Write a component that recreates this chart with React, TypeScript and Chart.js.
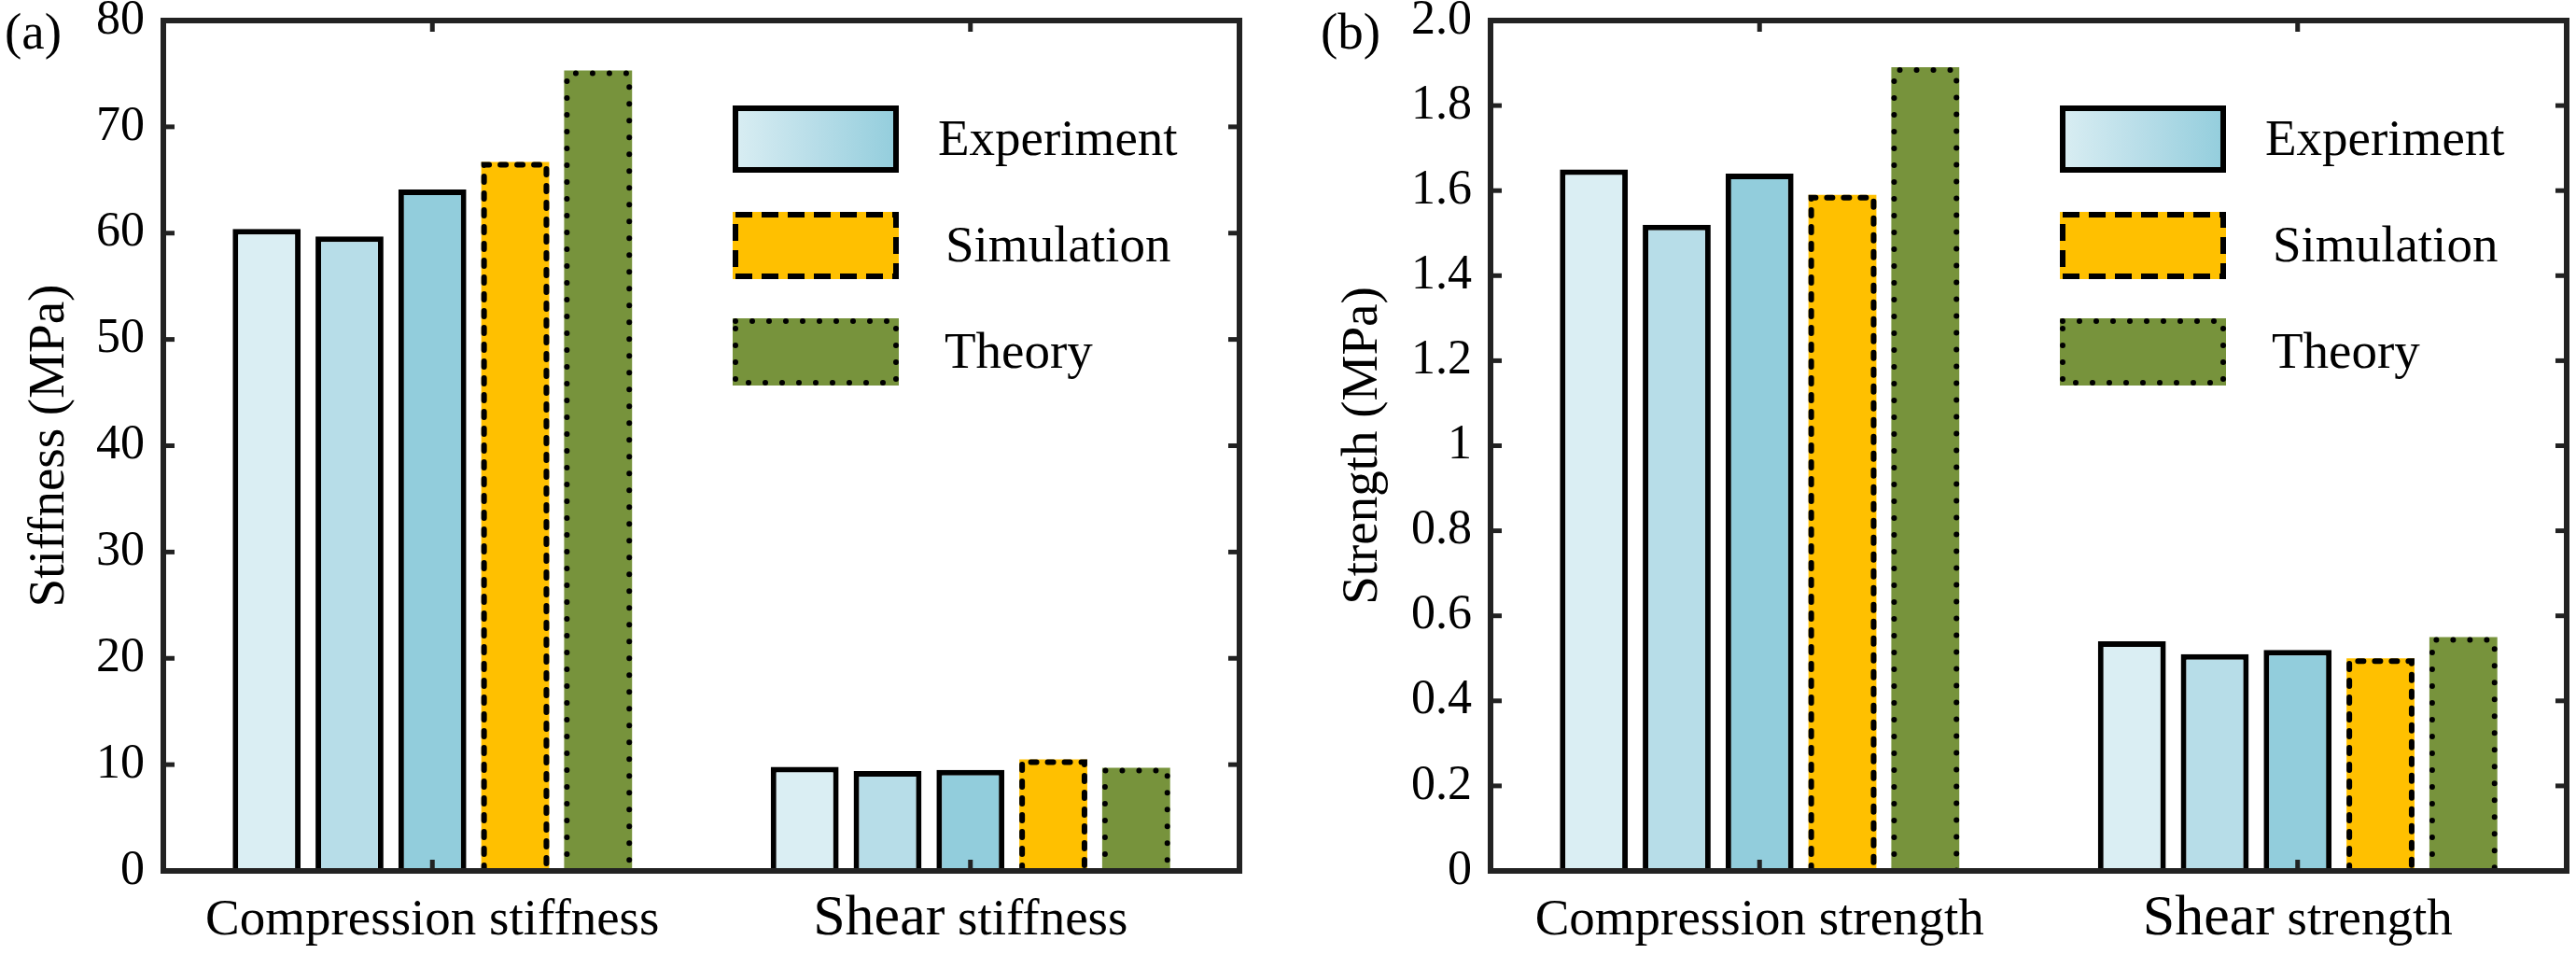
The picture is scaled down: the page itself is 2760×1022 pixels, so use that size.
import { useEffect, useRef } from 'react';
import { Chart, registerables } from 'chart.js';

Chart.register(...registerables);

const SERIF = "'Liberation Serif', 'Times New Roman', serif";
const INK = '#000';
const AXIS = '#222';
const LW = 6;

// (a) stiffness
const stiffnessCategories = ['Compression stiffness', 'Shear stiffness'];
const stiffnessExp1   = [60.4, 9.8];
const stiffnessExp2   = [59.7, 9.4];
const stiffnessExp3   = [64.1, 9.5];
const stiffnessSim    = [66.7, 10.5];
const stiffnessTheory = [75.3, 9.7];
const stiffnessTicks  = ['0', '10', '20', '30', '40', '50', '60', '70', '80'];

// (b) strength
const strengthCategories = ['Compression strength', 'Shear strength'];
const strengthExp1   = [1.65, 0.54];
const strengthExp2   = [1.52, 0.51];
const strengthExp3   = [1.64, 0.52];
const strengthSim    = [1.59, 0.50];
const strengthTheory = [1.89, 0.55];
const strengthTicks  = ['0', '0.2', '0.4', '0.6', '0.8', '1', '1.2', '1.4', '1.6', '1.8', '2.0'];

const seriesNames  = ['Experiment 1', 'Experiment 2', 'Experiment 3', 'Simulation', 'Theory'];
const legendLabels = ['Experiment', 'Simulation', 'Theory'];

const FILLS = ['#DAEEF3', '#B7DDE8', '#92CDDC', '#FFC000', '#77933C'];
const DASH: Record<string, number[]> = { Simulation: [6, 12], Theory: [0, 18] };

function buildDatasets(values: number[][]) {
  return values.map((data, i) => ({
    label: seriesNames[i],
    data,
    backgroundColor: FILLS[i],
    borderColor: INK,
    borderWidth: i < 3 ? LW : 0,
    categoryPercentage: 0.77,
    barPercentage: 0.82,
  }));
}

const figurePlugin = {
  id: 'figure',
  afterDatasetsDraw(chart: any) {
    const { ctx, chartArea } = chart;
    const { left, right, top, bottom } = chartArea;
    const h = LW / 2;
    ctx.save();
    // dashed / dotted outlines for simulation and theory bars
    ctx.strokeStyle = INK;
    ctx.lineWidth = LW;
    ctx.lineCap = 'round';
    chart.data.datasets.forEach((ds: any, i: number) => {
      const dash = DASH[ds.label];
      if (!dash) return;
      chart.getDatasetMeta(i).data.forEach((bar: any) => {
        const { x, y, base, width } = bar.getProps(['x', 'y', 'base', 'width'], true);
        const l = x - width / 2 + h, r = x + width / 2 - h, t = y + h;
        ctx.setLineDash(dash);
        ctx.beginPath();
        ctx.moveTo(l, base);
        ctx.lineTo(l, t);
        ctx.lineTo(r, t);
        ctx.lineTo(r, base);
        ctx.stroke();
      });
    });

    // box frame with inward ticks
    ctx.setLineDash([]);
    ctx.lineCap = 'butt';
    ctx.strokeStyle = AXIS;
    ctx.lineWidth = LW;
    ctx.strokeRect(left, top, right - left, bottom - top);
    ctx.lineWidth = 5;
    const seg = (x1: number, y1: number, x2: number, y2: number) => {
      ctx.beginPath(); ctx.moveTo(x1, y1); ctx.lineTo(x2, y2); ctx.stroke();
    };
    const ys = chart.scales.y;
    ys.ticks.forEach((t: any) => {
      const py = ys.getPixelForValue(t.value);
      seg(left, py, left + 12, py);
      seg(right, py, right - 12, py);
    });
    const xs = chart.scales.x;
    chart.data.labels.forEach((_: any, i: number) => {
      const px = xs.getPixelForValue(i);
      seg(px, bottom, px, bottom - 12);
      seg(px, top, px, top + 12);
    });
    ctx.restore();
  },
  afterDraw(chart: any, _args: any, opts: any) {
    const { ctx, chartArea } = chart;
    const { left, top, bottom } = chartArea;
    ctx.save();
    ctx.fillStyle = INK;
    ctx.textBaseline = 'alphabetic';
    ctx.textAlign = 'left';

    // category labels (first word of "Shear ..." is set larger)
    const xs = chart.scales.x;
    chart.data.labels.forEach((lab: string, i: number) => {
      const px = xs.getPixelForValue(i);
      const words = lab.split(' ');
      const first = words[0];
      const rest = ' ' + words.slice(1).join(' ');
      const f1 = `${first === 'Shear' ? 62 : 55}px ${SERIF}`;
      const f2 = `55px ${SERIF}`;
      ctx.font = f1;
      const w1 = ctx.measureText(first).width;
      ctx.font = f2;
      const w2 = ctx.measureText(rest).width;
      const x0 = px - (w1 + w2) / 2;
      ctx.font = f1;
      ctx.fillText(first, x0, bottom + 68);
      ctx.font = f2;
      ctx.fillText(rest, x0 + w1, bottom + 68);
    });

    // legend
    const bx = left + 610, bw = 178, bh = 72;
    const textX = [830, 838, 837];
    legendLabels.forEach((lab, i) => {
      const by = top + 91 + i * 114;
      if (i === 0) {
        const g = ctx.createLinearGradient(bx, 0, bx + bw, 0);
        g.addColorStop(0, FILLS[0]);
        g.addColorStop(0.5, FILLS[1]);
        g.addColorStop(1, FILLS[2]);
        ctx.fillStyle = g;
      } else {
        ctx.fillStyle = FILLS[i + 2];
      }
      ctx.fillRect(bx, by, bw, bh);
      ctx.strokeStyle = INK;
      ctx.lineWidth = LW;
      ctx.setLineDash(i === 0 ? [] : i === 1 ? [18, 10] : [0, 18]);
      ctx.lineCap = i === 2 ? 'round' : 'butt';
      ctx.strokeRect(bx + LW / 2, by + LW / 2, bw - LW, bh - LW);
      ctx.setLineDash([]);
      ctx.fillStyle = INK;
      ctx.font = `55px ${SERIF}`;
      ctx.fillText(lab, left + textX[i], by + bh / 2 + 17);
    });

    // panel letter
    ctx.font = `55px ${SERIF}`;
    ctx.fillText(opts.letter, opts.letterX, 52);
    ctx.restore();
  },
};

interface PanelProps {
  left: number;
  letter: string;
  letterX: number;
  categories: string[];
  series: number[][];
  tickLabels: string[];
  max: number;
  step: number;
  title: string;
  axisWidth: number;
  tickPad: number;
  titlePad: number;
  padRight: number;
}

function Panel(p: PanelProps) {
  const canvasRef = useRef<HTMLCanvasElement>(null);

  useEffect(() => {
    if (!canvasRef.current) return;
    const chart = new Chart(canvasRef.current, {
      type: 'bar',
      data: { labels: p.categories, datasets: buildDatasets(p.series) as any },
      plugins: [figurePlugin as any],
      options: {
        animation: false,
        responsive: true,
        maintainAspectRatio: false,
        layout: { padding: { top: 22, right: p.padRight, left: 0, bottom: 0 } },
        plugins: {
          legend: { display: false },
          tooltip: { enabled: false },
          figure: { letter: p.letter, letterX: p.letterX },
        } as any,
        scales: {
          x: {
            grid: { display: false, drawTicks: false },
            border: { display: false },
            ticks: { display: false },
            afterFit: (s: any) => { s.height = 89; },
          },
          y: {
            min: 0,
            max: p.max,
            grid: { display: false, drawTicks: false },
            border: { display: false },
            ticks: {
              stepSize: p.step,
              padding: p.tickPad,
              color: INK,
              // tiny line height keeps the label overhang from pushing the plot area down
              font: { family: SERIF, size: 52, lineHeight: 0.05 },
              callback: (_v: any, i: number) => p.tickLabels[i],
            },
            title: {
              display: true,
              text: p.title,
              color: INK,
              font: { family: SERIF, size: 55 },
              padding: { top: p.titlePad, bottom: 0 },
            },
            afterFit: (s: any) => { s.width = p.axisWidth; },
          },
        },
      },
    });
    return () => { chart.destroy(); };
  }, []);

  return (
    <div style={{ position: 'absolute', left: p.left, top: 0, width: 1380, height: 1022 }}>
      <canvas ref={canvasRef} />
    </div>
  );
}

export default function App() {
  return (
    <div style={{ position: 'fixed', left: 0, top: 0, width: 2760, height: 1022, background: '#fff' }}>
      <Panel
        left={0}
        letter="(a)"
        letterX={5}
        categories={stiffnessCategories}
        series={[stiffnessExp1, stiffnessExp2, stiffnessExp3, stiffnessSim, stiffnessTheory]}
        tickLabels={stiffnessTicks}
        max={80}
        step={10}
        title="Stiffness (MPa)"
        axisWidth={175}
        tickPad={20}
        titlePad={21}
        padRight={52}
      />
      <Panel
        left={1380}
        letter="(b)"
        letterX={35}
        categories={strengthCategories}
        series={[strengthExp1, strengthExp2, strengthExp3, strengthSim, strengthTheory]}
        tickLabels={strengthTicks}
        max={2}
        step={0.2}
        title="Strength (MPa)"
        axisWidth={217}
        tickPad={20}
        titlePad={48}
        padRight={10}
      />
    </div>
  );
}
